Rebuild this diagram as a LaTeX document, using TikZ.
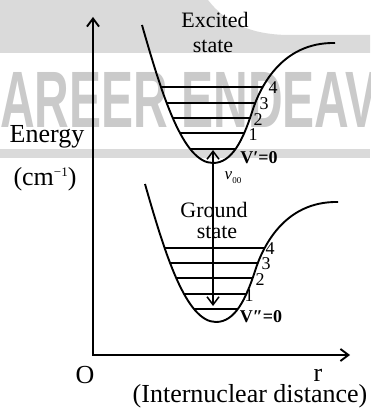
\documentclass[tikz,border=0pt]{standalone}
\usepackage{fontspec}
\setmainfont{Liberation Serif}
\newfontfamily\wmfont{Liberation Sans}
\usetikzlibrary{arrows.meta}
\definecolor{wmband}{RGB}{218,218,218}
\definecolor{wmletter}{RGB}{202,202,202}
\newcommand\wellcurve{(142,25) .. controls (162,95) and (183,163) .. (213,163) .. controls (232,163) and (243,140) .. (252,112) .. controls (259,90) and (280,42) .. (335,43)}
\begin{document}
\begin{tikzpicture}[x=1pt,y=-1pt,
  >={Straight Barb[length=8pt,width=12pt]},
  biglbl/.style={inner sep=0pt, font=\fontsize{26}{26}\selectfont},
  statelbl/.style={inner sep=0pt, font=\fontsize{22}{22}\selectfont},
  numlbl/.style={inner sep=0pt, font=\fontsize{18}{18}\selectfont},
  vlbl/.style={inner sep=0pt, font=\bfseries\fontsize{18}{18}\selectfont},
  axisline/.style={line width=1.9pt},
  wellline/.style={line width=1.9pt},
  levelline/.style={line width=1.7pt},
  transline/.style={line width=1.5pt}]
\useasboundingbox (0,0) rectangle (370,414);
% watermark
\fill[wmband] (0,0) -- (208,0) .. controls (225,22) and (250,35) .. (290,35) -- (370,35) -- (370,53) -- (0,53) -- cycle;
\fill[wmband] (0,149) rectangle (370,158);
\node[anchor=base west, inner sep=0pt, text=wmletter, font=\wmfont\bfseries\fontsize{80}{80}\selectfont, xscale=0.6] (wm) at (0,128) {AREER ENDEAV};
% axes
\coordinate (origin) at (93,355);
\coordinate (ytip) at (93,17);
\coordinate (xtip) at (350,355);
\draw[axisline,<->] (ytip) -- (origin) -- (xtip);
% excited state well
\begin{scope}
  \clip \wellcurve -- cycle;
  \foreach \y in {87,103,118,133,149} \draw[levelline] (130,\y) -- (300,\y);
\end{scope}
\draw[wellline] \wellcurve;
% ground state well
\begin{scope}[shift={(3,159)}]
  \begin{scope}
    \clip \wellcurve -- cycle;
    \foreach \y in {89,104,119,135,150} \draw[levelline] (130,\y) -- (300,\y);
  \end{scope}
  \draw[wellline] \wellcurve;
\end{scope}
% labels
\node[statelbl] (exc) at (215,20) {Excited};
\node[statelbl] (excst) at (213,46) {state};
\node[statelbl] (gnd) at (214,210) {Ground};
\node[statelbl] (gndst) at (217,232) {state};
\node[biglbl] (energy) at (47,137) {Energy};
\node[biglbl] (unit) at (45,179) {(cm\raisebox{0.75ex}{\fontsize{13}{13}\selectfont −1})};
\node[biglbl] (olbl) at (85,375) {O};
\node[biglbl] (rlbl) at (318,375) {r};
\node[biglbl] (dist) at (250,396) {(Internuclear distance)};
% vibrational numbers
\node[numlbl] (e4) at (273,88) {4};
\node[numlbl] (e3) at (264,104) {3};
\node[numlbl] (e2) at (258,120) {2};
\node[numlbl] (e1) at (253,135) {1};
\node[vlbl] (e0) at (259,158) {V′=0};
\node[numlbl] (g4) at (270,249) {4};
\node[numlbl] (g3) at (266,264) {3};
\node[numlbl] (g2) at (260,280) {2};
\node[numlbl] (g1) at (249,296) {1};
\node[vlbl] (g0) at (261,317) {V″=0};
% transition
\coordinate (eZero) at (213,150);
\coordinate (gZero) at (213,306);
\draw[transline,<->] (gZero) -- (eZero);
\node[inner sep=0pt, font=\fontsize{17}{17}\selectfont] (v00) at (233,178) {\textit{v}\raisebox{-0.5ex}{\fontsize{9}{9}\selectfont 00}};
\end{tikzpicture}
\end{document}
